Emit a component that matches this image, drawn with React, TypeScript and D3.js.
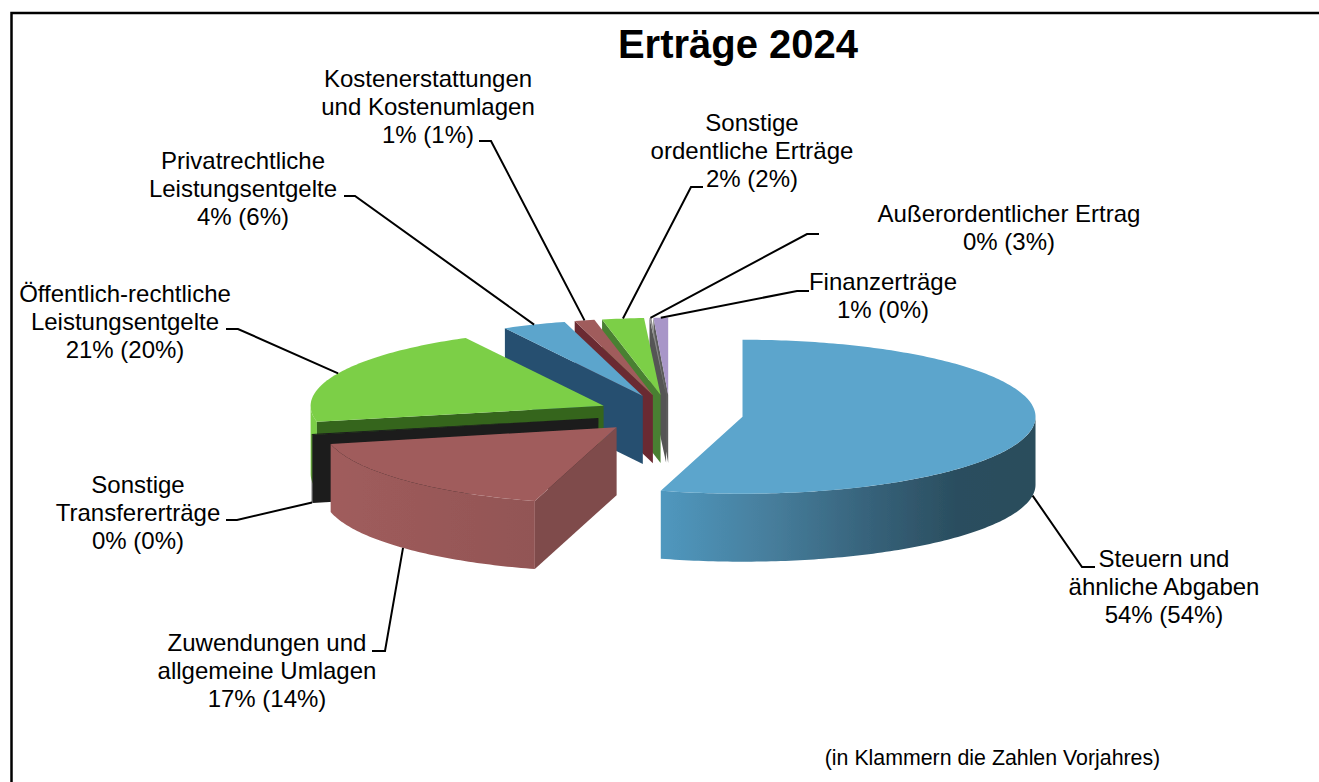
import * as d3 from "d3";

const categories = [
  ["Steuern und", "ähnliche Abgaben"],
  ["Zuwendungen und", "allgemeine Umlagen"],
  ["Sonstige", "Transfererträge"],
  ["Öffentlich-rechtliche", "Leistungsentgelte"],
  ["Privatrechtliche", "Leistungsentgelte"],
  ["Kostenerstattungen", "und Kostenumlagen"],
  ["Sonstige", "ordentliche Erträge"],
  ["Außerordentlicher Ertrag"],
  ["Finanzerträge"],
];
// exact shares
const shares = [54.5, 17.0, 0.2, 20.5, 3.5, 1.1, 2.3, 0.1, 0.8];
const currentPct = [54, 17, 0, 21, 4, 1, 2, 0, 1];
const priorPct = [54, 14, 0, 20, 6, 1, 2, 3, 0];

const topColors = ["#5ba5cc", "#a05c5c", "#1b1b1b", "#7ccf47", "#5ba5cc", "#a05c5c", "#7ccf47", "#8a8a8a", "#a896c8"];
const cutColors = ["#2a4d5e", "#7f4b4b", "#1b1b1b", "#36651f", "#264f70", "#6b2a30", "#4a8030", "#555555", "#5c5c5c"];

// label centre x, first baseline, elbow x, elbow y, end of the stub
const labelLayout = [
  { cx: 1164, y: 567, ex: 1082, ey: 567, sx: 1095 },
  { cx: 267, y: 651, ex: 385, ey: 651, sx: 372 },
  { cx: 138, y: 493, ex: 237, ey: 520, sx: 226 },
  { cx: 125, y: 302, ex: 238, ey: 329, sx: 226 },
  { cx: 243, y: 169, ex: 355, ey: 196, sx: 344 },
  { cx: 428, y: 87, ex: 491, ey: 141, sx: 479 },
  { cx: 752, y: 131, ex: 691, ey: 187, sx: 703 },
  { cx: 1009, y: 222, ex: 807, ey: 234, sx: 819 },
  { cx: 883, y: 290, ex: 797, ey: 291, sx: 809 },
];

const width = 1319;
const height = 782;
const depth = 68;
const explode = 0.25;
const lineGap = 28;

// unit circle -> flattened pie ellipse
const px = d3.scaleLinear().domain([-1, 1]).range([670 - 293, 670 + 293]);
const py = d3.scaleLinear().domain([-1, 1]).range([414 - 77, 414 + 77]);

const pieData = d3.pie<number>().sort(null).value((d) => d)(shares);
const HALF = Math.PI / 2;
const line = d3.line();

const slices = pieData.map((p, i) => {
  const mid = (p.startAngle + p.endAngle) / 2;
  const ox = explode * Math.sin(mid);
  const oy = -explode * Math.cos(mid);
  const rim = (a: number): [number, number] => [px(ox + Math.sin(a)), py(oy - Math.cos(a))];
  const apex: [number, number] = [px(ox), py(oy)];
  const arcPts = (a0: number, a1: number) => {
    const n = Math.max(2, Math.ceil((a1 - a0) * 60));
    return d3.range(n + 1).map((k) => rim(a0 + ((a1 - a0) * k) / n));
  };
  const down = (pts: [number, number][]) => pts.map(([x, y]) => [x, y + depth] as [number, number]);

  const top = line([apex, ...arcPts(p.startAngle, p.endAngle)]) + "Z";

  // cut face at the start angle looks to the viewer when it lies in the back half or left
  const startRim = rim(p.startAngle);
  const showCut = p.startAngle > HALF;
  const cut = showCut
    ? line([apex, startRim, [startRim[0], startRim[1] + depth], [apex[0], apex[1] + depth]]) + "Z"
    : null;

  const a0 = Math.max(p.startAngle, HALF);
  const a1 = Math.min(p.endAngle, 3 * HALF);
  let wall: string | null = null;
  if (a1 > a0) {
    const edge = arcPts(a0, a1);
    wall = line([...edge, ...down(edge).reverse()]) + "Z";
  }

  const anchor = rim(mid);
  const front = mid > HALF && mid < 3 * HALF;
  return { i, top, cut, wall, anchor: [anchor[0], anchor[1] + (front ? depth : 0)] as [number, number] };
});

const wallFill = ["url(#blueWall)", "url(#brownWall)", "#1b1b1b", "#7ccf47"];

export default function App() {
  const font = "'Liberation Sans', Arial, sans-serif";
  return (
    <svg
      width={width}
      height={height}
      viewBox={`0 0 ${width} ${height}`}
      style={{ position: "absolute", left: 0, top: 0, display: "block", background: "#fff" }}
      fontFamily={font}
    >
      <defs>
        <linearGradient id="blueWall" gradientUnits="userSpaceOnUse" x1={660} x2={1036} y1={0} y2={0}>
          <stop offset="0" stopColor="#5098bf" />
          <stop offset="0.3" stopColor="#467d9b" />
          <stop offset="0.6" stopColor="#345e75" />
          <stop offset="0.8" stopColor="#2a4d5e" />
          <stop offset="1" stopColor="#2a4d5c" />
        </linearGradient>
        <linearGradient id="brownWall" gradientUnits="userSpaceOnUse" x1={331} x2={535} y1={0} y2={0}>
          <stop offset="0" stopColor="#a05c5c" />
          <stop offset="1" stopColor="#925555" />
        </linearGradient>
        <filter id="soft" x="-5%" y="-5%" width="110%" height="110%">
          <feGaussianBlur stdDeviation="0.5" />
        </filter>
      </defs>

      <path d="M11.5 782V13H1319" fill="none" stroke="#000" strokeWidth={2.5} />

      <g filter="url(#soft)">
        {[...slices].reverse().map((s) => (
          <g key={s.i}>
            {s.wall && <path d={s.wall} fill={wallFill[s.i] ?? cutColors[s.i]} />}
            {s.cut && <path d={s.cut} fill={cutColors[s.i]} />}
            <path d={s.top} fill={topColors[s.i]} />
          </g>
        ))}
      </g>

      {slices.map((s) => {
        const l = labelLayout[s.i];
        return (
          <polyline
            key={s.i}
            points={[s.anchor, [l.ex, l.ey], [l.sx, l.ey]].map((p) => p.join(",")).join(" ")}
            fill="none"
            stroke="#000"
            strokeWidth={2}
          />
        );
      })}

      {categories.map((lines, i) => {
        const l = labelLayout[i];
        const rows = [...lines, `${currentPct[i]}% (${priorPct[i]}%)`];
        return (
          <text key={i} textAnchor="middle" fontSize={24} fill="#000">
            {rows.map((r, k) => (
              <tspan key={k} x={l.cx} y={l.y + k * lineGap}>
                {r}
              </tspan>
            ))}
          </text>
        );
      })}

      <text x={738} y={58} textAnchor="middle" fontSize={40} fontWeight="bold" fill="#000">
        Erträge 2024
      </text>
      <text x={992.5} y={765} textAnchor="middle" fontSize={21.33} fill="#000">
        (in Klammern die Zahlen Vorjahres)
      </text>
    </svg>
  );
}
